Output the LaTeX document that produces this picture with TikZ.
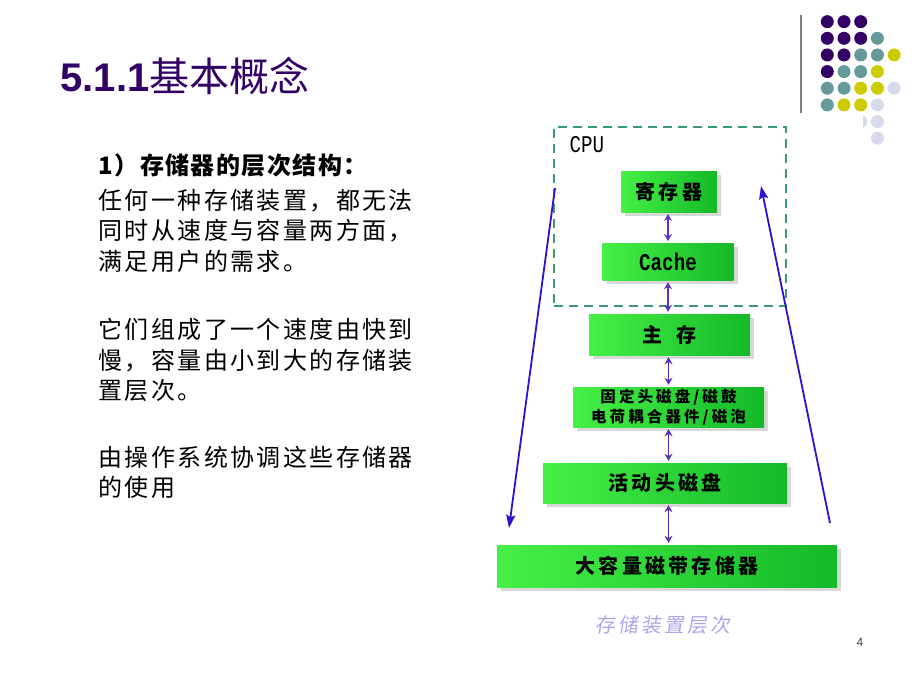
\documentclass[tikz,border=0pt]{standalone}
\usepackage{fontspec}
\setmainfont{Liberation Sans}
\setmonofont{Liberation Mono}
\newfontfamily\cjk{Noto Sans CJK SC}
\newfontfamily\cjktext[LetterSpace=10]{Noto Sans CJK SC}
\newfontfamily\cjkhead[LetterSpace=6]{Noto Sans CJK SC}
\newfontfamily\cjksmall[LetterSpace=20]{Noto Sans CJK SC}
\newfontfamily\cjkbox[LetterSpace=16]{Noto Sans CJK SC}
\newfontfamily\cjkcap[LetterSpace=15,FakeSlant=0.15]{Noto Sans CJK SC}
\usetikzlibrary{arrows, arrows.meta, calc, shadows}

\definecolor{titlepurple}{RGB}{51,0,102}
\definecolor{dotpurple}{RGB}{51,0,102}
\definecolor{dotteal}{RGB}{102,153,153}
\definecolor{dotyellow}{RGB}{204,204,0}
\definecolor{dotlilac}{RGB}{217,217,236}
\definecolor{cpugreen}{RGB}{60,155,110}
\definecolor{boxlight}{RGB}{70,240,70}
\definecolor{boxdark}{RGB}{20,185,40}
\definecolor{linkblue}{RGB}{51,17,204}
\definecolor{linkviolet}{RGB}{90,50,190}
\definecolor{capviolet}{RGB}{175,165,235}

\begin{document}
\begin{tikzpicture}[x=1pt, y=-1pt,
	membox/.style={shading=axis, left color=boxlight, middle color=boxlight!92!boxdark, right color=boxdark,
		drop shadow={shadow xshift=4pt, shadow yshift=-4pt, opacity=0.25, fill=black!60},
		inner sep=0pt, text=black, font=\fontsize{20}{20}\cjkbox\bfseries},
	cpubox/.style={draw=cpugreen, line width=1.8pt, dash pattern=on 9pt off 6pt, inner sep=0pt},
	link/.style={{Stealth[length=7pt,width=8pt]}-{Stealth[length=7pt,width=8pt]}, linkviolet, line width=1.3pt, shorten >=2pt, shorten <=2pt},
	flow/.style={-{Stealth[length=13pt,width=9pt,inset=2pt]}, linkblue, line width=1.8pt},
	bodyline/.style={anchor=base west, font=\fontsize{24}{30}\cjktext}]
	\useasboundingbox (0,0) rectangle (920,690);

	\node [anchor=base west, text=titlepurple, font=\fontsize{40}{48}\selectfont] (title) at (57,92) {\bfseries 5.1.1{\mdseries\cjk 基本概念}};

	\draw [black!50, line width=1.5pt] (801,15) -- (801,113);
	\foreach \c/\r/\col in {1/1/dotpurple, 2/1/dotpurple, 3/1/dotpurple,
		1/2/dotpurple, 2/2/dotpurple, 3/2/dotpurple, 4/2/dotteal,
		1/3/dotpurple, 2/3/dotpurple, 3/3/dotteal, 4/3/dotteal, 5/3/dotyellow,
		1/4/dotpurple, 2/4/dotteal, 3/4/dotteal, 4/4/dotyellow,
		1/5/dotteal, 2/5/dotteal, 3/5/dotyellow, 4/5/dotyellow, 5/5/dotlilac,
		1/6/dotteal, 2/6/dotyellow, 3/6/dotyellow, 4/6/dotlilac,
		3/7/dotlilac, 4/7/dotlilac, 4/8/dotlilac}
		\fill [\col] ({810.6+16.7*\c},{5+16.65*\r}) circle (6.5);

	\node [bodyline, font=\fontsize{24}{30}\cjkhead\bfseries] (head) at (95,174) {1）存储器的层次结构：};
	\node [bodyline] (l1) at (95,209) {任何一种存储装置，都无法};
	\node [bodyline] (l2) at (95,239.5) {同时从速度与容量两方面，};
	\node [bodyline] (l3) at (95,270.5) {满足用户的需求。};
	\node [bodyline] (l4) at (95,338.5) {它们组成了一个速度由快到};
	\node [bodyline] (l5) at (95,369) {慢，容量由小到大的存储装};
	\node [bodyline] (l6) at (95,399) {置层次。};
	\node [bodyline] (l7) at (95,466) {由操作系统协调这些存储器};
	\node [bodyline] (l8) at (95,496) {的使用};

	\fill [white] (485,113) rectangle (863,655);

	\node [cpubox, minimum width=232, minimum height=179] (cpu) at (670,216.5) {};
	\node [anchor=west, font=\fontsize{24}{24}\ttfamily] (cpulabel) at (566,145) {\scalebox{0.8}[1]{CPU}};

	\node [membox, minimum width=96, minimum height=41] (reg) at (669,191.5) {寄存器};
	\node [membox, minimum width=131, minimum height=37, font=\fontsize{24}{24}\ttfamily\bfseries] (cache) at (668,261.5) {\scalebox{0.8}[1]{Cache}};
	\node [membox, minimum width=161, minimum height=41] (main) at (669.5,334.5) {主\hspace{14pt}存};
	\node [membox, minimum width=191, minimum height=40, align=center, font=\fontsize{15.5}{20}\cjksmall\bfseries] (fixed) at (668.5,407) {固定头磁盘/磁鼓\\电荷耦合器件/磁泡};
	\node [membox, minimum width=244, minimum height=40] (moving) at (665,483) {活动头磁盘};
	\node [membox, minimum width=340, minimum height=42] (tape) at (667,566) {大容量磁带存储器};

	\draw [link] (668,212) -- (668,243);
	\draw [link] (cache.south) -- (cache.south |- main.north);
	\draw [link] (fixed.north |- main.south) -- (fixed.north);
	\draw [link] (fixed.south) -- (fixed.south |- moving.north);
	\draw [link] (fixed.south |- moving.south) -- (fixed.south |- tape.north);

	\coordinate (down1) at (555,188);
	\coordinate (down2) at (509,528);
	\coordinate (up1) at (830,523);
	\coordinate (up2) at (761,186);
	\draw [flow] (down1) -- (down2);
	\draw [flow] (up1) -- (up2);

	\node [text=capviolet, font=\fontsize{20}{20}\cjkcap] (levels) at (663,625) {存储装置层次};
	\node [text=black!75, font=\fontsize{12}{12}\selectfont] (page) at (860,642) {4};
\end{tikzpicture}
\end{document}
